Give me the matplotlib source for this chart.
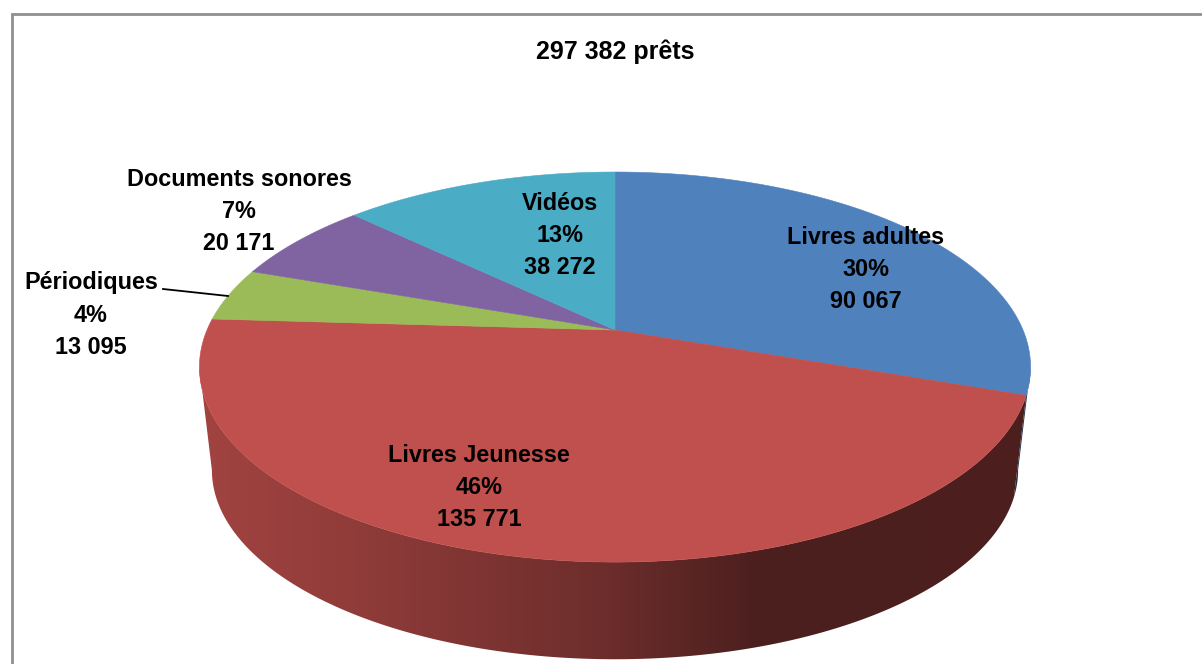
#=========================================================================
import numpy as np
import matplotlib
matplotlib.use('Agg')
import matplotlib.pyplot as plt
from matplotlib.patches import Polygon

#=========================================================================
title = '297 382 prêts'
categories = ['Livres adultes', 'Livres Jeunesse', 'Périodiques',
              'Documents sonores', 'Vidéos']
values = [90067, 135771, 13095, 20171, 38272]
percents = [30, 46, 4, 7, 13]
value_labels = ['90 067', '135 771', '13 095', '20 171', '38 272']

colors = ['#4f81bd', '#c0504d', '#9bbb59', '#8064a2', '#4bacc6']
label_pos = [(866, 270), (479, 488), (91, 315), (239, 211.5), (560, 236)]

# pie projection, in pixels of the picture
cx, cy = 615.0, 330.0
ax_u, ax_v, persp = 408.0, 188.0, 0.19
top_mid_y, bot_mid_y, bot_scale = 367.0, 470.0, 0.97

shade_x = [200, 340, 600, 760, 1040]
shade_f = [0.84, 0.76, 0.57, 0.39, 0.40]

#-------------------------------------------------------------------------
def project(ang):
  # ang is clockwise from 12 o'clock, in radians
  u = np.sin(ang)
  v = np.cos(ang)
  d = 1.0 + persp*v
  return cx + ax_u*u/d, cy - ax_v*v/d

def project_bottom(ang):
  x, y = project(ang)
  return cx + bot_scale*(x - cx), bot_mid_y + bot_scale*(y - top_mid_y)

#-------------------------------------------------------------------------
fig = plt.figure(figsize=(12.02, 6.64), dpi=100, facecolor='white')
ax = fig.add_axes([0, 0, 1, 1])

# chart frame, cut by the picture on the right and at the bottom
ax.plot([11.5, 11.5, 1202], [664, 13.5, 13.5], color='#8f8f8f', lw=2.0,
        solid_joinstyle='miter')

edges = 2.0*np.pi*np.concatenate(([0.0], np.cumsum(values)))/np.sum(values)

# side wall between the two silhouette points of the projected disc,
# a horizontal gradient cut to the wall
right_ang = np.arccos(-persp)
left_ang = 2.0*np.pi - right_ang
xgrid = np.arange(190, 1041)
shade = np.interp(xgrid, shade_x, shade_f)
for i in range(len(values)):
  lo = max(edges[i], right_ang)
  hi = min(edges[i+1], left_ang)
  if hi <= lo:
    continue
  ang = np.linspace(lo, hi, 300)
  xt, yt = project(ang)
  xb, yb = project_bottom(ang[::-1])
  wall = Polygon(np.column_stack((np.r_[xt, xb], np.r_[yt, yb])),
                 closed=True, facecolor='none', edgecolor='none',
                 transform=ax.transData)
  ax.add_patch(wall)
  rgb = np.array(matplotlib.colors.to_rgb(colors[i]))
  grad = shade[np.newaxis, :, np.newaxis]*rgb
  im = ax.imshow(grad, extent=(190, 1040, 670, 300), aspect='auto',
                 interpolation='bilinear', zorder=1)
  im.set_clip_path(wall)

# top face
for i in range(len(values)):
  ang = np.linspace(edges[i], edges[i+1], 200)
  x, y = project(ang)
  ax.add_patch(Polygon(np.column_stack((np.r_[cx, x], np.r_[cy, y])),
                       closed=True, facecolor=colors[i], edgecolor=colors[i],
                       lw=0.4, zorder=2))

# leader line of the small slice
ax.plot([163, 228], [289, 296], color='black', lw=1.3, zorder=3)

ax.set_xlim(0, 1202)
ax.set_ylim(664, 0)
ax.axis('off')

ax.text(615, 52, title, ha='center', va='center', family='Liberation Sans',
        fontweight='bold', fontsize=18)

for i in range(len(categories)):
  text = '%s\n%d%%\n%s' %(categories[i], percents[i], value_labels[i])
  ax.text(label_pos[i][0], label_pos[i][1], text, ha='center', va='center',
          family='Liberation Sans', fontweight='bold', fontsize=16.8,
          linespacing=1.5, multialignment='center', zorder=4)

plt.savefig('out.png', dpi=100)
